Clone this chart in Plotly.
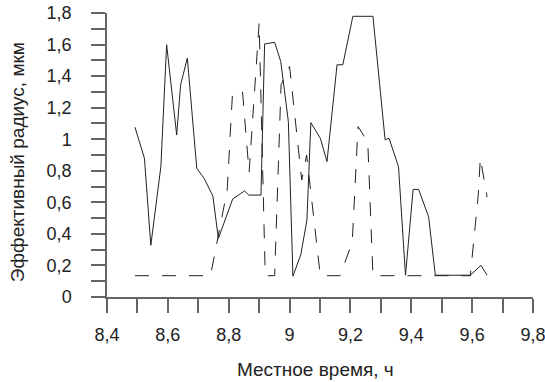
import plotly.graph_objects as go

# Solid series
solid_t = [8.492, 8.523, 8.544, 8.577, 8.596, 8.629, 8.642, 8.664, 8.695, 8.719,
           8.748, 8.766, 8.813, 8.852, 8.866, 8.906, 8.918, 8.951, 8.971, 8.996,
           9.011, 9.037, 9.057, 9.070, 9.101, 9.123, 9.156, 9.175, 9.208, 9.274,
           9.314, 9.327, 9.358, 9.381, 9.406, 9.424, 9.457, 9.479, 9.594, 9.629, 9.649]
solid_r = [1.076, 0.879, 0.328, 0.826, 1.599, 1.027, 1.345, 1.514, 0.816, 0.752,
           0.640, 0.371, 0.621, 0.672, 0.646, 0.646, 1.604, 1.614, 1.493, 1.112,
           0.132, 0.269, 0.487, 1.105, 1.006, 0.858, 1.472, 1.472, 1.779, 1.779,
           0.996, 1.006, 0.826, 0.138, 0.682, 0.682, 0.508, 0.138, 0.138, 0.201, 0.138]

# Dashed series
dash_t = [8.492, 8.740, 8.795, 8.812, 8.845, 8.867, 8.900, 8.920, 8.951, 8.972,
          9.000, 9.040, 9.056, 9.101, 9.166, 9.206, 9.225, 9.257, 9.274, 9.594,
          9.620, 9.627, 9.649]
dash_r = [0.135, 0.135, 0.678, 1.277, 1.309, 0.790, 1.737, 0.135, 0.135, 1.345,
          1.461, 0.741, 0.900, 0.135, 0.135, 0.348, 1.080, 0.983, 0.135, 0.135,
          0.646, 0.881, 0.633]

x_ticks = [8.4, 8.6, 8.8, 9.0, 9.2, 9.4, 9.6, 9.8]
x_labels = ["8,4", "8,6", "8,8", "9", "9,2", "9,4", "9,6", "9,8"]
x_minor = [8.5, 8.7, 8.9, 9.1, 9.3, 9.5, 9.7]
y_ticks = [0, 0.2, 0.4, 0.6, 0.8, 1.0, 1.2, 1.4, 1.6, 1.8]
y_labels = ["0", "0,2", "0,4", "0,6", "0,8", "1", "1,2", "1,4", "1,6", "1,8"]
y_minor = [0.1, 0.3, 0.5, 0.7, 0.9, 1.1, 1.3, 1.5, 1.7]

FONT = "Arial, Liberation Sans, sans-serif"
AX = "#666666"
TICK_SIZE = 18
TITLE_SIZE = 19

fig = go.Figure()
fig.add_trace(go.Scatter(x=solid_t, y=solid_r, mode="lines",
                         line=dict(color="#222222", width=1), showlegend=False))
fig.add_trace(go.Scatter(x=dash_t, y=dash_r, mode="lines",
                         line=dict(color="#222222", width=1, dash="14px,13px"),
                         showlegend=False))

fig.update_layout(
    width=545, height=382,
    margin=dict(l=107, r=12, t=13, b=85, autoexpand=False),
    paper_bgcolor="white", plot_bgcolor="white",
    font=dict(family=FONT, size=TICK_SIZE, color="#222222"),
    showlegend=False,
)
fig.update_xaxes(
    automargin=False,
    range=[8.4, 9.8], showgrid=False, zeroline=False,
    showline=True, linecolor=AX, linewidth=1.5,
    tickmode="array", tickvals=x_ticks, ticktext=x_labels,
    ticks="outside", ticklen=14, tickwidth=1.5, tickcolor=AX,
    ticklabelstandoff=7, ticklabeloverflow="allow",
    minor=dict(tickmode="array", tickvals=x_minor, ticks="outside",
               ticklen=14, tickwidth=1.5, tickcolor=AX, showgrid=False),
    tickfont=dict(size=TICK_SIZE),
)
fig.update_yaxes(
    automargin=False,
    range=[0, 1.8], showgrid=False, zeroline=False,
    showline=True, linecolor=AX, linewidth=1.5,
    tickmode="array", tickvals=y_ticks, ticktext=y_labels,
    ticks="outside", ticklen=14, tickwidth=1.5, tickcolor=AX,
    ticklabelstandoff=16, ticklabeloverflow="allow",
    minor=dict(tickmode="array", tickvals=y_minor, ticks="outside",
               ticklen=14, tickwidth=1.5, tickcolor=AX, showgrid=False),
    tickfont=dict(size=TICK_SIZE),
)
fig.add_annotation(text="Эффективный радиус, мкм", xref="paper", yref="paper",
                   x=-0.211, y=0.475, xanchor="center", yanchor="middle",
                   textangle=-90, showarrow=False, font=dict(size=TITLE_SIZE, family=FONT))
fig.add_annotation(text="Местное время, ч", xref="paper", yref="paper",
                   x=0.49, y=-0.257, xanchor="center", yanchor="middle",
                   showarrow=False, font=dict(size=TITLE_SIZE, family=FONT))

fig.write_html("out.html", config={"displayModeBar": False},
               post_script="document.body.style.margin='0';")
